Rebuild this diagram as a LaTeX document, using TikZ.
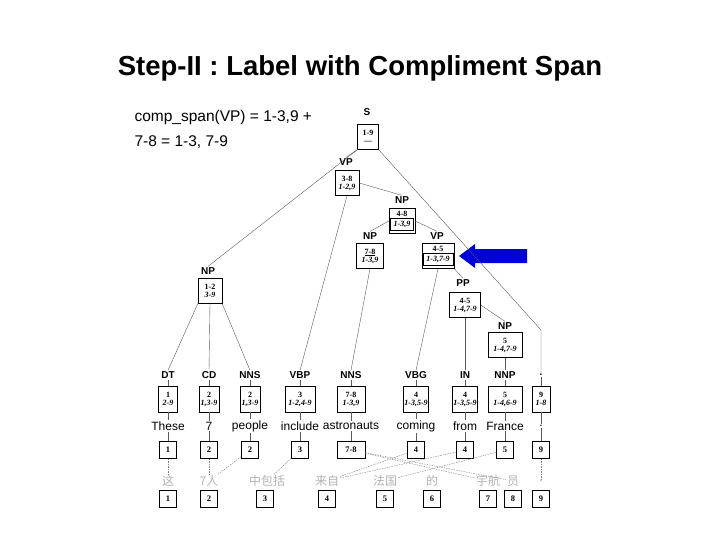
\documentclass[tikz,border=0pt]{standalone}
\usepackage{fontspec}
\setmainfont{Liberation Serif}
\newfontfamily\arial{Liberation Sans}
\newfontfamily\cjk{Noto Sans CJK SC}
\begin{document}
\begin{tikzpicture}[x=1pt,y=-1pt,
 lab/.style={font=\arial\fontsize{10}{11}\selectfont\bfseries,inner sep=1pt},
 sbox/.style={draw,thin,font=\fontsize{8}{8}\selectfont\bfseries,align=center,inner sep=1pt,minimum height=25pt},
 ibox/.style={draw,thin,font=\fontsize{8.5}{8}\selectfont\bfseries,inner sep=1pt,minimum width=17pt,minimum height=17pt},
 wd/.style={font=\arial\fontsize{12}{13}\selectfont,inner sep=1pt},
 cw/.style={font=\cjk\fontsize{12}{13}\selectfont,text=gray!60,inner sep=1pt},
 tl/.style={gray!70!black,thin},
 al/.style={gray,thin,dash pattern=on 1.5pt off 1pt}]
\useasboundingbox (0,0) rectangle (720,540);
\node[font=\arial\fontsize{27.5}{30}\selectfont\bfseries] (title) at (360,68) {Step-II : Label with Compliment Span};
\node[font=\arial\fontsize{15.5}{18}\selectfont,anchor=west,align=left] (c1) at (131,117) {comp\_span(VP) = 1-3,9 +};
\node[font=\arial\fontsize{15.5}{18}\selectfont,anchor=west,align=left] (c2) at (131,142) {7-8 = 1-3, 7-9};
% internal nodes
\node[lab] (Sl) at (367,112) {S};
\node[sbox,minimum width=21pt] (Sb) at (368,137) {1-9\\---};
\node[lab] (VPl) at (346,162) {VP};
\node[sbox,minimum width=24pt] (VPb) at (347,183) {3-8\\\textit{1-2,9}};
\node[lab] (NP1l) at (402,200) {NP};
\node[sbox,minimum width=26pt] (NP1b) at (402,221) {4-8\\\fbox{\textit{1-3,9}}};
\node[lab] (NP2l) at (370,236) {NP};
\node[sbox,minimum width=27pt] (NP2b) at (370,256) {\underline{7-8}\\\textit{1-3,9}};
\node[lab] (VP2l) at (437,236) {VP};
\node[sbox,minimum width=32pt] (VP2b) at (438,256) {4-5\\\fbox{\textit{1-3,7-9}}};
\node[lab] (PPl) at (463,283) {PP};
\node[sbox,minimum width=31pt] (PPb) at (465,305) {4-5\\\textit{1-4,7-9}};
\node[lab] (NP3l) at (505,326) {NP};
\node[sbox,minimum width=34pt] (NP3b) at (505,345) {5\\\textit{1-4,7-9}};
\node[lab] (NP4l) at (208,271) {NP};
\node[sbox,minimum width=24pt] (NP4b) at (210,291) {1-2\\\textit{3-9}};
% arrow
\fill[blue!85!black] (459,256) -- (475,244) -- (475,249) -- (527,249) -- (527,263) -- (475,263) -- (475,268) -- cycle;
% leaves
\foreach \n/\x/\p/\s/\c/\w/\bw/\i/\iw in {
 1/168/DT/1/{2-9}/These/19/1/17,
 2/209/CD/2/{1,3-9}/7/20/2/17,
 3/250/NNS/2/{1,3-9}/people/20/2/17,
 4/300/VBP/3/{1-2,4-9}/include/30/3/17,
 5/351/NNS/7-8/{1-3,9}/astronauts/28/7-8/28,
 6/416/VBG/4/{1-3,5-9}/coming/24/4/17,
 7/465/IN/4/{1-3,5-9}/from/20/4/17,
 8/505/NNP/5/{1-4,6-9}/France/34/5/17,
 9/541/./9/{1-8}/./18/9/17}{
 \node[lab] (p\n) at (\x,375) {\p};
 \node[sbox,minimum width=\bw pt,minimum height=26pt] (b\n) at (\x,399) {\s\\\textit{\c}};
 \node[wd] (w\n) at (\x,426) {\w};
 \node[ibox,minimum width=\iw pt] (i\n) at (\x,450) {\i};
 \draw[tl] (p\n) -- (b\n);
 \draw[tl] (b\n) -- (w\n);
 \draw[tl] (w\n) -- (i\n);
}
% chinese
\foreach \n/\x/\t/\bx in {1/168/这/168,2/209/7人/209,3/267/中包括/265,4/327/来自/327,5/385/法国/385,6/432/的/432,7/488/宇航/488,8/513/员/513,9/541/./541}{
 \node[cw] (z\n) at (\x,481) {\t};
 \node[ibox] (k\n) at (\bx,499) {\n};
}
% tree edges
\draw[tl] (Sb.south west) -- (NP4l.north);
\draw[tl] (Sb.south west) -- (VPl.north);
\draw[tl] (Sb.south east) -- (541,330) -- (p9.north);
\draw[tl] (VPb.east) -- (NP1l.north);
\draw[tl] (VPb.south) -- (p4.north);
\draw[tl] (NP1b.west) -- (NP2l.north);
\draw[tl] (NP1b.east) -- (VP2l.north);
\draw[tl] (NP2b.south) -- (p5.north);
\draw[tl] (VP2b.south) -- (p6.north);
\draw[tl] (VP2b.south east) -- (PPl.north);
\draw[tl] (PPb.south) -- (p7.north);
\draw[tl] (PPb.east) -- (NP3l.north);
\draw[tl] (NP3b.south) -- (p8.north);
\draw[tl] (NP4b.south west) -- (p1.north);
\draw[tl] (NP4b.south) -- (p2.north);
\draw[tl] (NP4b.south east) -- (p3.north);
% alignments
\draw[al] (i1) -- (z1);
\draw[al] (i2) -- (z2);
\draw[al] (i3) -- (z2);
\draw[al] (i4) -- (z3);
\draw[al] (i5) -- (z7);
\draw[al] (i5) -- (z8);
\draw[al] (i6) -- (z4);
\draw[al] (i7) -- (z4);
\draw[al] (i8) -- (z5);
\draw[al] (i9) -- (z9);
\end{tikzpicture}
\end{document}
